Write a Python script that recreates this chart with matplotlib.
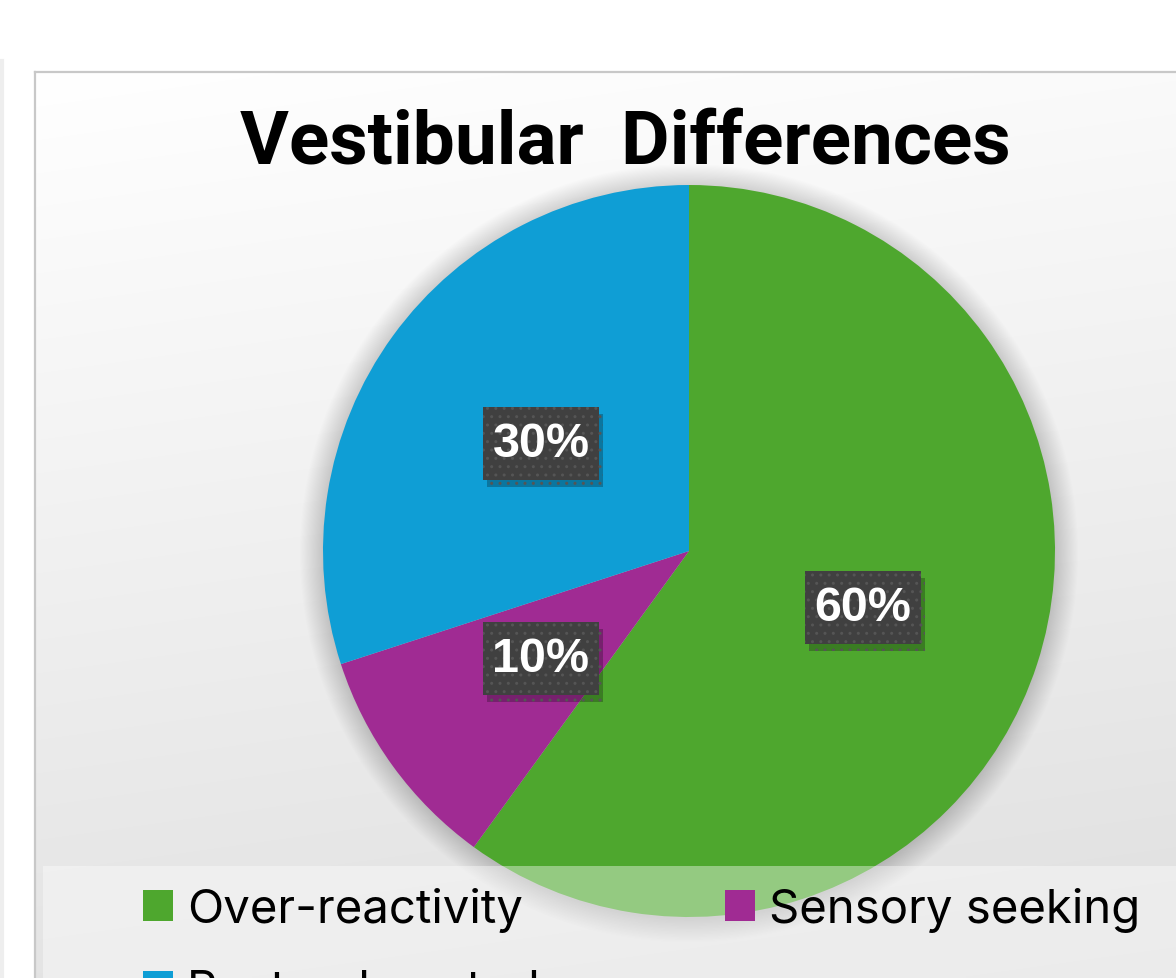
import matplotlib
matplotlib.use('Agg')
import matplotlib.pyplot as plt
import numpy as np
from matplotlib.patches import Rectangle, Patch, Circle
from matplotlib.lines import Line2D
from matplotlib.path import Path
import matplotlib.patheffects as pe

# ---- data ----
categories = ['Over-reactivity', 'Sensory seeking', 'Postural control']
values = [60, 10, 30]
colors = ['#4EA72E', '#A02B93', '#0F9ED5']
title = 'Vestibular  Differences'

W, H = 1176, 979
fig = plt.figure(figsize=(W / 100, H / 100), dpi=100)
fig.patch.set_facecolor('white')
renderer = fig.canvas.get_renderer()


def fx(px):
    return px / W


def fy(py):
    return 1 - py / H


def fit_size(s, family, weight, target_px, base=40.0):
    t = fig.text(0, 0, s, fontsize=base, family=family, weight=weight)
    w = t.get_window_extent(renderer=renderer).width
    t.remove()
    return base * target_px / w


def label_box(x0, y0, width, height, mutation_size):
    padx = 0.2 * mutation_size
    pady = 0.2 * mutation_size + 4.5
    x0, x1 = x0 - padx, x0 + width + padx
    y0, y1 = y0 - pady, y0 + height + pady
    return Path([(x0, y0), (x1, y0), (x1, y1), (x0, y1), (x0, y0)], closed=True)


# ---- chart area background (gradient) ----
bg = fig.add_axes([fx(35), 0, 1 - fx(35), fy(73)])
ny, nx = 300, 300
yy, xx = np.mgrid[0:1:ny * 1j, 0:1:nx * 1j]
v = 1.0 - 0.125 * np.clip(0.85 * yy + 0.15 * xx, 0, 1)
img = np.dstack([v, v, v])
bg.imshow(img, extent=[0, 1, 0, 1], aspect='auto', origin='upper', interpolation='bilinear')
bg.set_xlim(0, 1)
bg.set_ylim(0, 1)
bg.axis('off')

fig.add_artist(Line2D([fx(35), fx(35)], [0, fy(73)], color='#c8c8c8', lw=1.6, zorder=2))
fig.add_artist(Line2D([fx(35), 1], [fy(73), fy(73)], color='#c8c8c8', lw=1.6, zorder=2))
fig.add_artist(Line2D([fx(2), fx(2)], [0, fy(62)], color='#eeeeee', lw=3, zorder=2))

# ---- pie ----
R = 366
cx, cy = 689, 552
ax = fig.add_axes([fx(cx - R), fy(cy + R), 2 * R / W, 2 * R / H])
ax.set_zorder(1)

# soft shadow
for i in range(22):
    ax.add_patch(Circle((0.0, -0.006), 1.0 + 0.003 * i, facecolor='k',
                        alpha=0.007, lw=0, clip_on=False, zorder=0))

pct_size = fit_size('30%', 'Liberation Sans', 'bold', 97)
wedges, texts, autotexts = ax.pie(
    values, colors=colors, startangle=90, counterclock=False,
    autopct='%d%%', pctdistance=0.5,
    wedgeprops=dict(linewidth=0),
    textprops=dict(color='white', family='Liberation Sans', weight='bold',
                   fontsize=pct_size))
for w in wedges:
    w.set_zorder(2)

for at in autotexts:
    at.set_ha('center')
    at.set_va('center')
    at.set_zorder(5)
    at.set_bbox(dict(boxstyle=label_box, facecolor='#404040',
                     edgecolor='#555555', linewidth=0, hatch='..'))
    at.get_bbox_patch().set_path_effects([
        pe.SimplePatchShadow(offset=(3, -5), shadow_rgbFace='black', alpha=0.25),
        pe.Normal()])

ax.set_xlim(-1, 1)
ax.set_ylim(-1, 1)
ax.set_aspect('equal')
ax.axis('off')

# ---- title ----
title_size = fit_size(title, 'Roboto', 'bold', 770)
fig.text(fx(625), fy(163), title, ha='center', va='baseline',
         family='Roboto', weight='bold', fontsize=title_size, color='black')

# ---- legend band ----
fig.add_artist(Rectangle((fx(43), 0), 1 - fx(43), fy(867), transform=fig.transFigure,
                         facecolor='white', alpha=0.4, lw=0, zorder=4))

leg_size = fit_size('Over-reactivity', 'Inter', 'normal', 336)
fs_px = leg_size * 100 / 72
hl = 30 / fs_px
handles = [Patch(facecolor=c, edgecolor='none') for c in colors]
common = dict(loc='upper left', frameon=False, prop=dict(family='Inter', size=leg_size),
              handlelength=hl, handleheight=hl, handletextpad=14 / fs_px,
              labelspacing=0.78, borderpad=0, borderaxespad=0)
leg1 = fig.legend([handles[0], handles[2]], [categories[0], categories[2]],
                  bbox_to_anchor=(fx(143), fy(888)), **common)
leg1.set_zorder(6)
leg2 = fig.legend([handles[1]], [categories[1]],
                  bbox_to_anchor=(fx(725), fy(888)), **common)
leg2.set_zorder(6)

fig.savefig('out.png', dpi=100, facecolor='white')
